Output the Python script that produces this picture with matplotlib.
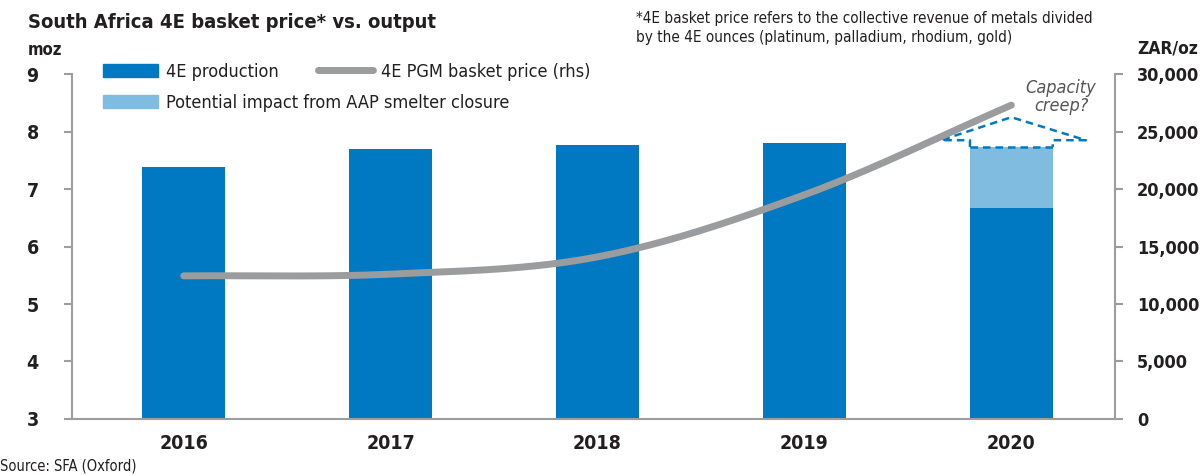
import numpy as np
import matplotlib
matplotlib.use('Agg')
import matplotlib.pyplot as plt
from matplotlib.lines import Line2D
from matplotlib.patches import Patch

plt.rcParams['font.family'] = ['DejaVu Sans']
plt.rcParams['font.stretch'] = 'condensed'

# data
years = ['2016', '2017', '2018', '2019', '2020']
production = [7.38, 7.70, 7.77, 7.80, 6.67]          # moz, 4E production
aap_impact = [0, 0, 0, 0, 1.06]                       # moz, potential impact from AAP smelter closure
basket_price = [12450, 12600, 14100, 19500, 27300]    # ZAR/oz

dark_blue = '#0079c2'
light_blue = '#7fbce0'
grey_line = '#9a9c9d'
spine_grey = '#9d9d9d'
text_col = '#231f20'

fig = plt.figure(figsize=(12, 4.75), dpi=100)
ax = fig.add_axes([0.06, 0.118, 0.869, 0.726])
x = np.arange(len(years))
w = 0.4

ax.bar(x, production, width=w, color=dark_blue, zorder=2)
ax.bar(x, aap_impact, width=w, bottom=production, color=light_blue, zorder=2)
ax.set_ylim(3, 9)
ax.set_xlim(-0.54, 4.5)
ax.set_yticks(range(3, 10))
ax.set_xticks(x)
ax.set_xticklabels(years)

ax2 = ax.twinx()
# smoothed line through the yearly points (Catmull-Rom)
pts = np.array(basket_price, dtype=float)
p = np.concatenate([[2 * pts[0] - pts[1]], pts, [2 * pts[-1] - pts[-2]]])
xs = np.linspace(0, 4, 200)
ys = []
for t in xs:
    i = min(int(t), 3)
    u = t - i
    p0, p1, p2, p3 = p[i], p[i + 1], p[i + 2], p[i + 3]
    ys.append(0.5 * ((2 * p1) + (-p0 + p2) * u + (2 * p0 - 5 * p1 + 4 * p2 - p3) * u ** 2
                     + (-p0 + 3 * p1 - 3 * p2 + p3) * u ** 3))
ax2.plot(xs, ys, color=grey_line, lw=5, solid_capstyle='round', zorder=3)
ax2.set_ylim(0, 30000)
ax2.set_yticks(range(0, 30001, 5000))
ax2.set_yticklabels([f'{v:,}' for v in range(0, 30001, 5000)])

# "capacity creep" roof over the 2020 bar
top = production[4] + aap_impact[4]
bl, br = x[4] - w / 2, x[4] + w / 2
base = top + 0.12
apex = top + 0.52
ax.plot([bl, br], [top, top], ls=(0, (3, 2)), color=dark_blue, lw=1.8, zorder=4)
ax.plot([bl, bl, bl - 0.14, x[4], br + 0.16, br, br], [top, base, base, apex, base, base, top],
        ls=(0, (3, 2)), color=dark_blue, lw=1.8, zorder=4, clip_on=False)
ax.text(x[4] + 0.24, top + 0.88, 'Capacity\ncreep?', ha='center', va='center', fontsize=13,
        style='italic', color='#555555', linespacing=1.0)

for a in (ax, ax2):
    a.spines['top'].set_visible(False)
    for s in ('left', 'right', 'bottom'):
        a.spines[s].set_color(spine_grey)
        a.spines[s].set_linewidth(1.5)
ax.spines['right'].set_visible(False)
ax2.spines['left'].set_visible(False)
ax2.spines['bottom'].set_visible(False)

ax.tick_params(axis='y', length=6, width=1.5, color=spine_grey, pad=18, labelsize=14,
               labelcolor=text_col)
ax.tick_params(axis='x', length=0, pad=11, labelsize=14, labelcolor=text_col)
ax2.tick_params(axis='y', length=6, width=1.5, color=spine_grey, pad=10, labelsize=13,
                labelcolor=text_col)
for lab in ax.get_yticklabels() + ax.get_xticklabels() + ax2.get_yticklabels():
    lab.set_fontweight('bold')

leg_kw = dict(loc='upper left', frameon=False, fontsize=13, handlelength=3.05, handleheight=0.8,
              handletextpad=0.45, labelspacing=0.72, borderpad=0, borderaxespad=0,
              labelcolor=text_col)
leg1 = fig.legend([Patch(color=dark_blue), Patch(color=light_blue)],
                  ['4E production', 'Potential impact from AAP smelter closure'],
                  bbox_to_anchor=(103 / 1200, 0.868), **leg_kw)
leg2 = fig.legend([Line2D([], [], color=grey_line, lw=5, solid_capstyle='round')],
                  ['4E PGM basket price (rhs)'],
                  bbox_to_anchor=(318 / 1200, 0.868), **leg_kw)

fig.text(0.023, 0.953, 'South Africa 4E basket price* vs. output', fontsize=14.5, fontweight='bold',
         color=text_col, va='center')
fig.text(0.023, 0.895, 'moz', fontsize=12, fontweight='bold', color=text_col, va='center')
fig.text(0.948, 0.898, 'ZAR/oz', fontsize=12.5, fontweight='bold', color=text_col, va='center')
fig.text(0.530, 0.941, '*4E basket price refers to the collective revenue of metals divided\n'
         'by the 4E ounces (platinum, palladium, rhodium, gold)', fontsize=11, color=text_col,
         va='center', linespacing=1.3)
fig.text(0.0, 0.018, 'Source: SFA (Oxford)', fontsize=10.5, color=text_col, va='center')

fig.savefig('out.png', dpi=100)
